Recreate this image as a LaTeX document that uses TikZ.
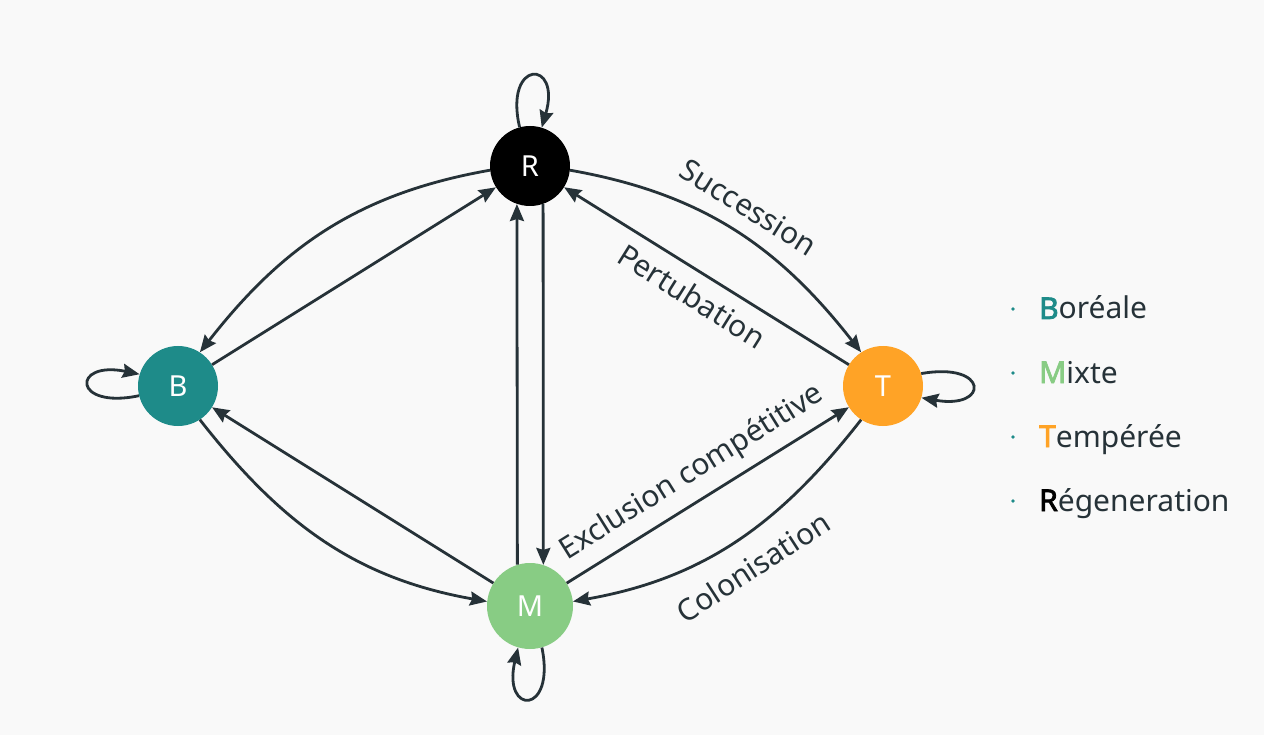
\documentclass[tikz,border=0pt]{standalone}
\usepackage{fontspec}
\setmainfont{Noto Sans}
\newfontfamily\legbold{Noto Sans}[FakeBold=2.5]
\usetikzlibrary{arrows.meta}
\definecolor{ink}{HTML}{263238}
\definecolor{bor}{HTML}{1E8B89}
\definecolor{mix}{HTML}{88CC84}
\definecolor{tem}{HTML}{FFA326}
\definecolor{bg}{HTML}{F9F9F9}
\begin{document}
\begin{tikzpicture}[x=1pt,y=1pt,
  st/.style={circle, inner sep=0pt, minimum size=80pt, text=white, font=\fontsize{29}{34}\selectfont},
  edge/.style={draw=ink, line width=2.8pt, -{Stealth[length=17pt,width=14pt,inset=2pt]}},
  lbl/.style={text=ink, inner sep=0pt, font=\fontsize{30}{36}\selectfont},
  leg/.style={text=ink, inner sep=0pt, font=\fontsize{30}{36}\selectfont},
  dot/.style={fill=bor}]
\fill[bg] (0,0) rectangle (1264,-735);
\useasboundingbox (0,0) rectangle (1264,-735);
% states
\node[st, fill=black] (R) at (530,-166) {R};
\node[st, fill=bor] (B) at (178,-386) {B};
\node[st, fill=tem] (T) at (883,-386) {T};
\node[st, fill=mix, minimum size=86pt] (M) at (530,-606) {M};
% curved edges
\draw[edge] (R.186) to[out=190, in=52] (B.57);
\draw[edge] (R.-6) to[out=-10, in=128] (T.123);
\draw[edge] (B.-57) to[out=-52, in=170] (M.174);
\draw[edge] (T.-123) to[out=232, in=10] (M.6);
% straight edges
\draw[edge] (B) -- (R);
\draw[edge] (T) -- (R);
\draw[edge] (M) -- (B);
\draw[edge] (M) -- (T);
\draw[edge] (R.-71) -- (M.72.4);
\draw[edge] (M.107.6) -- (R.-109);
% self loops
\draw[edge] (R.105) .. controls +(-16,68) and +(20,69) .. (R.73);
\draw[edge] (B.194) .. controls +(-67,-14) and +(-68,14) .. (B.163);
\draw[edge] (T.18) .. controls +(68,12) and +(68,-12) .. (T.-17);
\draw[edge] (M.-74) .. controls +(14,-68) and +(-16,-68) .. (M.-106);
% labels
\node[lbl, rotate=-32] (lS) at (749,-207) {Succession};
\node[lbl, rotate=-32] (lP) at (692,-296) {Pertubation};
\node[lbl, rotate=32] (lE) at (692,-473) {Exclusion compétitive};
\node[lbl, rotate=33] (lC) at (753,-567) {Colonisation};
% legend
\fill[dot] (1013,-309) circle (1.8);
\fill[dot] (1013,-373) circle (1.8);
\fill[dot] (1013,-437) circle (1.8);
\fill[dot] (1013,-501) circle (1.8);
\node[leg, anchor=base west] (k1) at (1039,-319) {{\legbold\textcolor{bor}{B}}oréale};
\node[leg, anchor=base west] (k2) at (1039,-383) {{\legbold\textcolor{mix}{M}}ixte};
\node[leg, anchor=base west] (k3) at (1039,-447) {{\legbold\textcolor{tem}{T}}empérée};
\node[leg, anchor=base west] (k4) at (1039,-511) {{\legbold\textcolor{black}{R}}égeneration};
\end{tikzpicture}
\end{document}
